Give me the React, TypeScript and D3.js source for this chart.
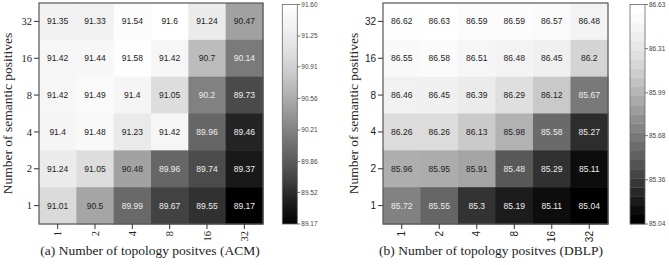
import React from "react";
import * as d3 from "d3";

const xCats = ["1", "2", "4", "8", "16", "32"];
const yCats = ["32", "16", "8", "4", "2", "1"]; // top to bottom

const acmValues = [
  [91.35, 91.33, 91.54, 91.6, 91.24, 90.47],
  [91.42, 91.44, 91.58, 91.42, 90.7, 90.14],
  [91.42, 91.49, 91.4, 91.05, 90.2, 89.73],
  [91.4, 91.48, 91.23, 91.42, 89.96, 89.46],
  [91.24, 91.05, 90.48, 89.96, 89.74, 89.37],
  [91.01, 90.5, 89.99, 89.67, 89.55, 89.17],
];
const dblpValues = [
  [86.62, 86.63, 86.59, 86.59, 86.57, 86.48],
  [86.55, 86.58, 86.51, 86.48, 86.45, 86.2],
  [86.46, 86.45, 86.39, 86.29, 86.12, 85.67],
  [86.26, 86.26, 86.13, 85.98, 85.58, 85.27],
  [85.96, 85.95, 85.91, 85.48, 85.29, 85.11],
  [85.72, 85.55, 85.3, 85.19, 85.11, 85.04],
];
const acmTicks = ["91.60", "91.25", "90.91", "90.56", "90.21", "89.86", "89.52", "89.17"];
const dblpTicks = ["86.63", "86.31", "85.99", "85.68", "85.36", "85.04"];

type PanelProps = {
  values: number[][];
  ticks: string[];
  x0: number;
  x1: number;
  cbX: number;
  titleX: number;
  yTitleX: number;
  title: string;
  serifTicks: boolean;
  banded: boolean;
  idp: string;
};

function Panel(p: PanelProps) {
  const flat = p.values.flat();
  const vmin = d3.min(flat)!;
  const vmax = d3.max(flat)!;
  const top = 3;
  const bottom = 224;
  const x = d3.scaleBand<string>().domain(xCats).range([p.x0, p.x1]);
  const y = d3.scaleBand<string>().domain(yCats).range([top, bottom]);
  const color = (v: number) => d3.interpolateGreys(1 - (v - vmin) / (vmax - vmin));
  const mid = (vmin + vmax) / 2;
  const cbTop = 4.5;
  const cbBot = 224;
  const cbW = 15;
  const cbScale = d3.scaleLinear().domain([vmin, vmax]).range([cbBot, cbTop]);
  const tickFont = p.serifTicks ? "'Liberation Serif', 'Times New Roman', serif" : "'Liberation Sans', Arial, sans-serif";
  const tickSize = p.serifTicks ? 10.5 : 10;
  const nb = 24;
  const bands = d3.range(nb);
  return (
    <g>
      {p.values.map((row, ri) =>
        row.map((v, ci) => (
          <g key={`${ri}-${ci}`}>
            <rect
              x={x(xCats[ci])}
              y={y(yCats[ri])}
              width={x.bandwidth() + 0.5}
              height={y.bandwidth() + 0.5}
              fill={color(v)}
            />
            <text
              x={x(xCats[ci])! + x.bandwidth() / 2}
              y={y(yCats[ri])! + y.bandwidth() / 2}
              dy="0.35em"
              textAnchor="middle"
              fontFamily="'Liberation Sans', Arial, sans-serif"
              fontSize={8.5}
              fill={v < mid ? "#eeeeee" : "#222222"}
            >
              {String(v)}
            </text>
          </g>
        ))
      )}
      <rect x={p.x0} y={top} width={p.x1 - p.x0} height={bottom - top} fill="none" stroke="#555" strokeWidth={1.2} />
      {yCats.map((c) => (
        <g key={"y" + c}>
          <line x1={p.x0 - 5} x2={p.x0} y1={y(c)! + y.bandwidth() / 2} y2={y(c)! + y.bandwidth() / 2} stroke="#333" />
          <text
            x={p.x0 - 7}
            y={y(c)! + y.bandwidth() / 2}
            dy="0.35em"
            textAnchor="end"
            fontFamily={tickFont}
            fontSize={tickSize}
            fill="#222"
          >
            {c}
          </text>
        </g>
      ))}
      {xCats.map((c) => {
        const cx = x(c)! + x.bandwidth() / 2;
        return (
          <g key={"x" + c}>
            <line x1={cx} x2={cx} y1={bottom} y2={bottom + 5} stroke="#333" />
            <text
              transform={`translate(${cx},${bottom + 7}) rotate(-90)`}
              dy="0.35em"
              textAnchor="end"
              fontFamily={tickFont}
              fontSize={tickSize}
              fill="#222"
            >
              {c}
            </text>
          </g>
        );
      })}
      <text
        x={p.titleX}
        y={255}
        textAnchor="middle"
        fontFamily="'Liberation Serif', 'Times New Roman', serif"
        fontSize={13.5}
        fill="#222"
      >
        {p.title}
      </text>
      <text
        transform={`translate(${p.yTitleX},${(top + bottom) / 2}) rotate(-90)`}
        textAnchor="middle"
        fontFamily="'Liberation Serif', 'Times New Roman', serif"
        fontSize={13.5}
        fill="#222"
      >
        Number of semantic positives
      </text>
      <defs>
        <linearGradient id={p.idp} x1="0" y1="1" x2="0" y2="0">
          {d3.range(11).map((i) => (
            <stop key={i} offset={i / 10} stopColor={d3.interpolateGreys(1 - i / 10)} />
          ))}
        </linearGradient>
      </defs>
      {p.banded ? (
        bands.map((b) => {
          const h = (cbBot - cbTop) / nb;
          return (
            <rect
              key={b}
              x={p.cbX}
              y={cbBot - (b + 1) * h}
              width={cbW}
              height={h + 0.3}
              fill={d3.interpolateGreys(1 - b / (nb - 1))}
            />
          );
        })
      ) : (
        <rect x={p.cbX} y={cbTop} width={cbW} height={cbBot - cbTop} fill={`url(#${p.idp})`} />
      )}
      <rect x={p.cbX} y={cbTop} width={cbW} height={cbBot - cbTop} fill="none" stroke="#666" strokeWidth={0.8} />
      {p.ticks.map((t) => {
        const ty = cbScale(+t);
        return (
          <g key={"t" + t}>
            <line x1={p.cbX + cbW} x2={p.cbX + cbW + 3} y1={ty} y2={ty} stroke="#555" strokeWidth={0.8} />
            <text
              x={p.cbX + cbW + 4}
              y={ty}
              dy="0.35em"
              fontFamily="'Liberation Sans', Arial, sans-serif"
              fontSize={6.5}
              fill="#444"
            >
              {t}
            </text>
          </g>
        );
      })}
    </g>
  );
}

export default function App() {
  return (
    <svg width={669} height={265} style={{ position: "absolute", left: 0, top: 0, background: "#fff" }}>
      <rect width={669} height={265} fill="#fff" />
      <Panel
        values={acmValues}
        ticks={acmTicks}
        x0={39}
        x1={263}
        cbX={282.3}
        titleX={150}
        yTitleX={12}
        title="(a) Number of topology positves (ACM)"
        serifTicks={true}
        banded={false}
        idp="gA"
      />
      <Panel
        values={dblpValues}
        ticks={dblpTicks}
        x0={383}
        x1={608}
        cbX={630}
        titleX={491}
        yTitleX={358}
        title="(b) Number of topology positves (DBLP)"
        serifTicks={false}
        banded={true}
        idp="gB"
      />
    </svg>
  );
}
